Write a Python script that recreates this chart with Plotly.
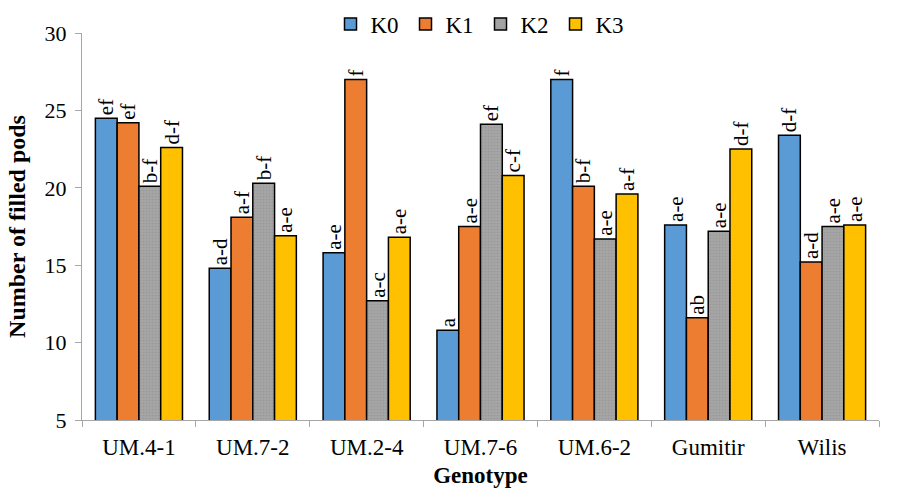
import plotly.graph_objects as go

genotypes = ["UM.4-1", "UM.7-2", "UM.2-4", "UM.7-6", "UM.6-2", "Gumitir", "Wilis"]

k0 = [24.5, 14.8, 15.8, 10.8, 27.0, 17.6, 23.4]
k1 = [24.2, 18.1, 27.0, 17.5, 20.1, 11.6, 15.2]
k2 = [20.1, 20.3, 12.7, 24.1, 16.7, 17.2, 17.5]
k3 = [22.6, 16.9, 16.8, 20.8, 19.6, 22.5, 17.6]

k0_letters = ["ef", "a-d", "a-e", "a", "f", "a-e", "d-f"]
k1_letters = ["ef", "a-f", "f", "a-e", "b-f", "ab", "a-d"]
k2_letters = ["b-f", "b-f", "a-c", "ef", "a-e", "a-e", "a-e"]
k3_letters = ["d-f", "a-e", "a-e", "c-f", "a-f", "d-f", "a-e"]

series = [
    ("K0", k0, k0_letters, "#5B9BD5", None),
    ("K1", k1, k1_letters, "#ED7D31", None),
    ("K2", k2, k2_letters, "#A5A5A5", "."),
    ("K3", k3, k3_letters, "#FFC000", None),
]

serif = "Liberation Serif, Times New Roman, serif"

fig = go.Figure()
for name, vals, letters, color, shape in series:
    marker = dict(color=color, line=dict(color="black", width=1.5))
    if shape:
        marker["pattern"] = dict(shape=shape, size=3, solidity=0.25,
                                 fgcolor="#8C8C8C", bgcolor=color)
    fig.add_trace(go.Bar(
        name=name, x=genotypes, y=vals, marker=marker,
        text=letters, textposition="outside", textangle=-90,
        constraintext="none",
        textfont=dict(family=serif, size=21, color="black"),
        cliponaxis=False,
    ))

fig.update_layout(
    width=901, height=488,
    margin=dict(l=82, r=22, t=33, b=68, autoexpand=False),
    paper_bgcolor="white", plot_bgcolor="white",
    barmode="group", bargap=0.235, bargroupgap=0,
    font=dict(family=serif, size=21, color="black"),
    legend=dict(orientation="h", x=0.5, xanchor="center",
                yref="container", y=0.995, yanchor="top",
                font=dict(family=serif, size=23), itemwidth=30,
                entrywidth=30, entrywidthmode="pixels",
                traceorder="normal", bgcolor="rgba(0,0,0,0)"),
)
fig.update_xaxes(
    showline=True, linecolor="#A6A6A6", linewidth=1,
    ticks="outside", tickson="boundaries", ticklen=6, tickcolor="#A6A6A6",
    tickfont=dict(family=serif, size=23), ticklabelstandoff=6,
    title=dict(text="<b>Genotype</b>", font=dict(family=serif, size=23), standoff=12),
    showgrid=False, automargin=False,
)
fig.update_yaxes(
    range=[5, 30], dtick=5, showline=True, linecolor="#A6A6A6", linewidth=1,
    ticks="outside", ticklen=6, tickcolor="#A6A6A6",
    tickfont=dict(family=serif, size=22), ticklabelstandoff=4,
    title=dict(text="<b>Number of filled pods</b>", font=dict(family=serif, size=24), standoff=12),
    showgrid=False, zeroline=False, automargin=False,
)

fig.write_html("out.html")
